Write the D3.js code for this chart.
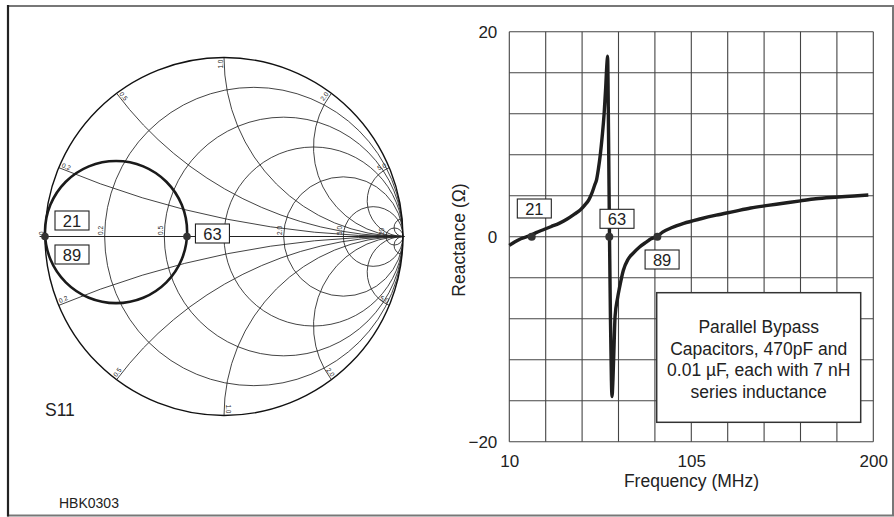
<!DOCTYPE html>
<html>
<head>
<meta charset="utf-8">
<script src="https://cdn.jsdelivr.net/npm/d3@7/dist/d3.min.js"></script>
<style>
  html, body { margin: 0; padding: 0; background: #fff; }
  svg { display: block; }
  text { font-family: "Liberation Sans", Arial, Helvetica, sans-serif; fill: #222; }
</style>
</head>
<body>
<svg id="chart" width="894" height="517"></svg>
<script>
// ---------------- DATA ----------------
// Smith chart grid values
const resistanceCircles = [0.2, 0.5, 1, 2, 5, 20];
const reactanceArcs = [0.2, 0.5, 1, 2, 5, 20];
const resistanceLabelValues = [0, 0.2, 0.5, 2, 5, 20];
const resistanceLabelText = ["0", "0.2", "0.5", "2.0", "5.0", "20"];
const reactanceLabelValues = [0.2, 0.5, 1, 2, 5];
const reactanceLabelText = ["0.2", "0.5", "1.0", "2.0", "5.0"];

// S11 trace on the Smith chart (reflection coefficient, real / imaginary)
const s11Re = [-0.206, -0.236, -0.322, -0.451, -0.603, -0.755, -0.884, -0.970,
               -1.000, -0.970, -0.884, -0.755, -0.603, -0.451, -0.322, -0.236];
const s11Im = [0.025, 0.177, 0.306, 0.392, 0.422, 0.392, 0.306, 0.177,
               0.025, -0.127, -0.256, -0.342, -0.372, -0.342, -0.256, -0.127];

// Smith chart markers
const smithMarkerRe = [-1.0, -0.207];
const smithMarkerIm = [0, 0];

// Reactance vs frequency
const freqMHz = [10, 13, 16, 20, 24, 28, 32, 36, 40, 44, 47, 49.5, 51.5, 53, 54.5, 55.6, 56.5,
                 57.5, 58.5, 59.5, 60.3, 61.0, 61.3, 61.8, 62.3, 62.8, 63.3, 63.6, 64.1, 64.7,
                 65.2, 66.5, 67.5, 69.5, 72, 74.7, 78, 81.7, 84, 86.9, 90, 95, 101, 110, 118,
                 127, 136, 145, 153, 162, 170, 180, 190, 197.4];
const reactanceOhm = [-0.85, -0.5, -0.2, 0.05, 0.4, 0.7, 1.0, 1.3, 1.7, 2.2, 2.6, 3.1, 3.6, 4.2, 5.0, 5.6, 6.6,
                      8.0, 9.8, 12.0, 14.5, 17.0, 17.6, 10, 0, -8, -14, -15.6, -14, -10.5,
                      -7.8, -6.0, -5.0, -3.3, -2.2, -1.6, -1.0, -0.5, -0.2, 0, 0.45, 0.9, 1.3, 1.75, 2.1,
                      2.45, 2.8, 3.05, 3.26, 3.5, 3.7, 3.85, 3.97, 4.07];

// Markers on the reactance plot
const markerFreq = [21.7, 62.2, 87.3];
const markerText = ["21", "63", "89"];

// Axis ticks
const xTickValues = [10, 105, 200];
const yTickValues = [-20, 0, 20];
const xGridValues = [10, 29, 48, 67, 86, 105, 124, 143, 162, 181, 200];
const yGridValues = [-20, -16, -12, -8, -4, 0, 4, 8, 12, 16, 20];

const noteLines = ["Parallel Bypass", "Capacitors, 470pF and", "0.01 \u00b5F, each with 7 nH", "series inductance"];

// ---------------- DRAW ----------------
const svg = d3.select("#chart");

// outer frame
svg.append("rect").attr("x", 8).attr("y", 6).attr("width", 885).attr("height", 509.5)
  .attr("fill", "#fff").attr("stroke", "#777").attr("stroke-width", 2);
svg.append("line").attr("x1", 8).attr("x2", 8).attr("y1", 5).attr("y2", 516.5)
  .attr("stroke", "#222").attr("stroke-width", 2.2);

// ---------- Smith chart ----------
const cx = 224, cy = 236.5, R = 179;
const gx = d3.scaleLinear().domain([-1, 1]).range([cx - R, cx + R]);
const gy = d3.scaleLinear().domain([-1, 1]).range([cy + R, cy - R]);
const smith = svg.append("g").attr("class", "smith");
const gridStroke = "#222", gridW = 0.85;

// clip to unit circle
svg.append("defs").append("clipPath").attr("id", "unit")
  .append("circle").attr("cx", gx(0)).attr("cy", gy(0)).attr("r", gx(1) - gx(0) + 0.5);

const gridG = smith.append("g").attr("clip-path", "url(#unit)");

// resistance circles
gridG.selectAll("circle.r").data(resistanceCircles).join("circle")
  .attr("class", "r")
  .attr("cx", d => gx(d / (1 + d)))
  .attr("cy", gy(0))
  .attr("r", d => gx(1 / (1 + d)) - gx(0))
  .attr("fill", "none").attr("stroke", gridStroke).attr("stroke-width", gridW);

// reactance arcs (upper and lower)
function arcPath(x, sign) {
  const pr = (x * x - 1) / (x * x + 1), pi = sign * 2 * x / (x * x + 1);
  const rad = gx(1 / x) - gx(0);
  return `M${gx(pr)},${gy(pi)} A${rad},${rad} 0 0 ${sign > 0 ? 0 : 1} ${gx(1)},${gy(0)}`;
}
reactanceArcs.forEach(x => {
  [1, -1].forEach(s => {
    gridG.append("path").attr("d", arcPath(x, s))
      .attr("fill", "none").attr("stroke", gridStroke).attr("stroke-width", gridW);
  });
});

// horizontal axis
smith.append("line").attr("x1", gx(-1.03)).attr("x2", gx(1.01))
  .attr("y1", gy(0)).attr("y2", gy(0)).attr("stroke", gridStroke).attr("stroke-width", 1);

// outer circle
smith.append("circle").attr("cx", gx(0)).attr("cy", gy(0)).attr("r", gx(1) - gx(0))
  .attr("fill", "none").attr("stroke", "#111").attr("stroke-width", 1.4);

// resistance labels along axis
smith.selectAll("text.rl").data(resistanceLabelValues).join("text")
  .attr("class", "rl")
  .attr("transform", d => `translate(${gx((d - 1) / (d + 1)) - 1.5},${gy(0) - 1.5}) rotate(-90)`)
  .attr("font-size", 6.5).attr("text-anchor", "start")
  .text((d, i) => resistanceLabelText[i]);

// reactance labels at rim
reactanceLabelValues.forEach((x, i) => {
  [1, -1].forEach(s => {
    const pr = (x * x - 1) / (x * x + 1), pi = s * 2 * x / (x * x + 1);
    const px = gx(pr), py = gy(pi);
    const ang = Math.atan2(py - gy(0), px - gx(0)) * 180 / Math.PI;
    const flip = Math.cos(ang * Math.PI / 180) < 0;
    const rot = flip ? ang + 180 : ang;
    smith.append("text")
      .attr("transform", `translate(${px},${py}) rotate(${rot}) translate(${flip ? 2 : -2},-1.5)`)
      .attr("font-size", 6.5)
      .attr("text-anchor", flip ? "start" : "end")
      .text(reactanceLabelText[i]);
  });
});

// S11 trace
const s11Pts = s11Re.map((r, i) => [gx(r), gy(s11Im[i])]);
smith.append("path")
  .attr("d", d3.line().curve(d3.curveCardinalClosed.tension(0))(s11Pts))
  .attr("fill", "none").attr("stroke", "#1a1a1a").attr("stroke-width", 2.6);

// smith markers
smith.selectAll("circle.m").data(smithMarkerRe).join("circle")
  .attr("class", "m")
  .attr("cx", d => gx(d)).attr("cy", (d, i) => gy(smithMarkerIm[i]))
  .attr("r", 3.8).attr("fill", "#333");

function labelBox(g, x, y, txt) {
  g.append("rect").attr("x", x).attr("y", y).attr("width", 34).attr("height", 19)
    .attr("fill", "#fff").attr("stroke", "#222").attr("stroke-width", 1.1);
  g.append("text").attr("x", x + 17).attr("y", y + 16).attr("text-anchor", "middle")
    .attr("font-size", 16.5).text(txt);
}
labelBox(smith, gx(-1) + 10, gy(0) - 25.5, "21");
labelBox(smith, gx(-1) + 10, gy(0) + 8.5, "89");
labelBox(smith, gx(-0.207) + 8.5, gy(0) - 12.5, "63");

svg.append("text").attr("x", 45).attr("y", 415.5).attr("font-size", 17.5).text("S11");
svg.append("text").attr("x", 59).attr("y", 507.5).attr("font-size", 14).text("HBK0303");

// ---------- Reactance plot ----------
const x = d3.scaleLinear().domain([10, 200]).range([509.3, 873.3]);
const y = d3.scaleLinear().domain([-20, 20]).range([441.7, 31.7]);
const plot = svg.append("g");

plot.selectAll("line.vg").data(xGridValues).join("line")
  .attr("class", "vg").attr("x1", d => x(d)).attr("x2", d => x(d))
  .attr("y1", y(-20)).attr("y2", y(20)).attr("stroke", "#444").attr("stroke-width", 1.1);
plot.selectAll("line.hg").data(yGridValues).join("line")
  .attr("class", "hg").attr("x1", x(10)).attr("x2", x(200))
  .attr("y1", d => y(d)).attr("y2", d => y(d)).attr("stroke", "#444").attr("stroke-width", 1.1);

// axes (labels only)
const xAxis = plot.append("g").attr("transform", `translate(0,${y(-20)})`)
  .call(d3.axisBottom(x).tickValues(xTickValues).tickSize(0).tickPadding(13));
const yAxis = plot.append("g").attr("transform", `translate(${x(10)},0)`)
  .call(d3.axisLeft(y).tickValues(yTickValues).tickSize(0).tickPadding(12));
[xAxis, yAxis].forEach(a => {
  a.select(".domain").remove();
  a.selectAll("text").attr("font-size", 17).attr("fill", "#222")
    .attr("font-family", "'Liberation Sans', Arial, sans-serif");
});

plot.append("text").attr("x", 691.5).attr("y", 487).attr("text-anchor", "middle")
  .attr("font-size", 17.5).text("Frequency (MHz)");
plot.append("text").attr("transform", `translate(465,240) rotate(-90)`)
  .attr("text-anchor", "middle").attr("font-size", 17.5).text("Reactance (\u03a9)");

// curve
const pts = freqMHz.map((f, i) => [x(f), y(reactanceOhm[i])]);
plot.append("path").attr("d", d3.line().curve(d3.curveMonotoneX)(pts))
  .attr("fill", "none").attr("stroke", "#1e1e1e").attr("stroke-width", 3.4)
  .attr("stroke-linejoin", "round");

// markers
plot.selectAll("circle.mk").data(markerFreq).join("circle")
  .attr("class", "mk").attr("cx", d => x(d)).attr("cy", y(0))
  .attr("r", 4).attr("fill", "#333");

labelBox(plot, x(markerFreq[0]) - 14.4, y(0) - 37.7, markerText[0]);
labelBox(plot, x(markerFreq[1]) - 9.3, y(0) - 27.4, markerText[1]);
labelBox(plot, x(markerFreq[2]) - 12.3, y(0) + 13.3, markerText[2]);

// note box
plot.append("rect").attr("x", 656.7).attr("y", 292.7).attr("width", 204).attr("height", 129.6)
  .attr("fill", "#fff").attr("stroke", "#333").attr("stroke-width", 1.5);
plot.selectAll("text.note").data(noteLines).join("text")
  .attr("class", "note").attr("x", 758.7).attr("y", (d, i) => 333.3 + i * 21.4)
  .attr("text-anchor", "middle").attr("font-size", 17.5).text(d => d);
</script>
</body>
</html>
